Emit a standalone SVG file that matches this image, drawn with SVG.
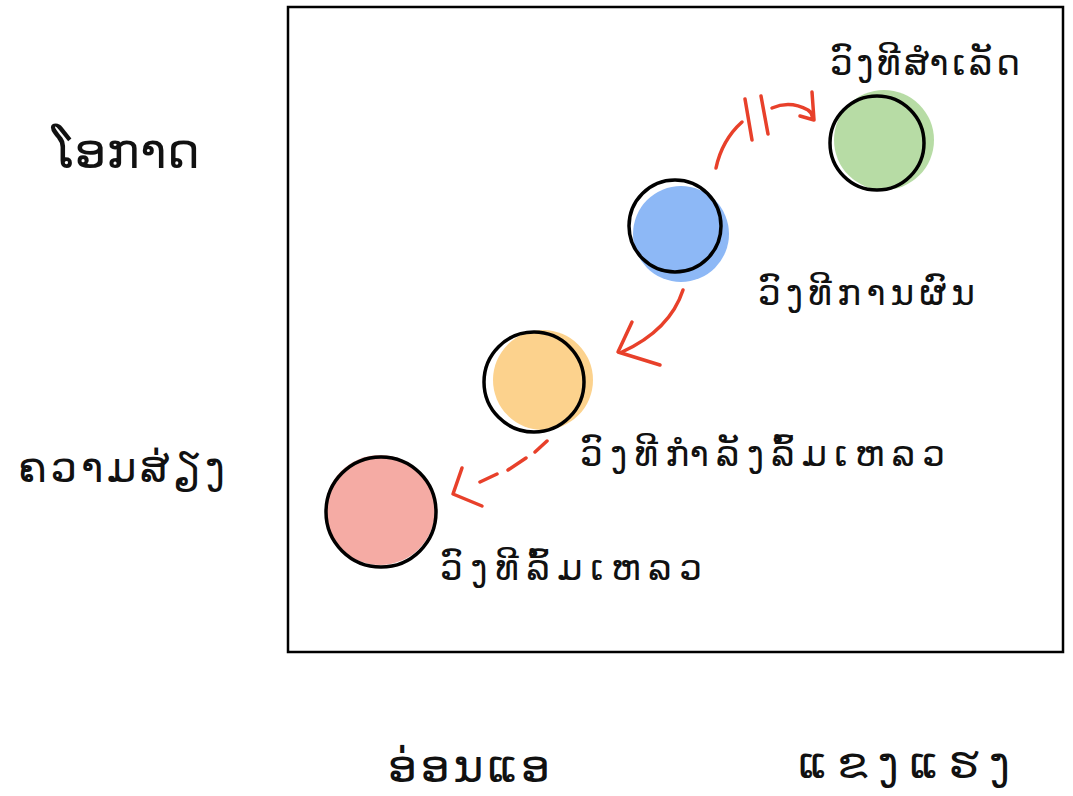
<svg xmlns="http://www.w3.org/2000/svg" width="1073" height="796" viewBox="0 0 1073 796">
<style>
.lbl{font-family:"DejaVu Sans","Noto Sans",sans-serif;fill:#111;}
.ring{fill:none;stroke:#000;stroke-width:3.5;}
.red{fill:none;stroke:#e8402a;stroke-width:3.5;stroke-linecap:round;stroke-linejoin:round;}
</style>
<rect width="1073" height="796" fill="#fff"/>
<rect x="288" y="7" width="775" height="645" fill="none" stroke="#000" stroke-width="2.5"/>
<g id="axis-labels">
<text class="lbl" x="52" y="168" font-size="50" textLength="148" lengthAdjust="spacing">ໂອກາດ</text>
<text class="lbl" x="18" y="482" font-size="42" textLength="207" lengthAdjust="spacing">ຄວາມສ່ຽງ</text>
<text class="lbl" x="388" y="782" font-size="46" textLength="162" lengthAdjust="spacing">ອ່ອນແອ</text>
<text class="lbl" x="798" y="778" font-size="44" textLength="212" lengthAdjust="spacing">ແຂງແຮງ</text>
</g>
<g id="node-green">
<circle cx="884" cy="140" r="50" fill="#b7dca5"/>
<circle class="ring" cx="877" cy="143" r="47"/>
<text class="lbl" x="830" y="75" font-size="36" textLength="190" lengthAdjust="spacing">ວົງທີສຳເລັດ</text>
</g>
<g id="node-blue">
<circle cx="681" cy="234" r="48" fill="#8db8f6"/>
<circle class="ring" cx="675" cy="226" r="46"/>
<text class="lbl" x="758" y="305" font-size="36" textLength="217" lengthAdjust="spacing">ວົງທີການຜົນ</text>
</g>
<g id="node-orange">
<circle cx="543" cy="380" r="50" fill="#fcd28d"/>
<circle class="ring" cx="534" cy="382" r="50"/>
<text class="lbl" x="580" y="466" font-size="36" textLength="365" lengthAdjust="spacing">ວົງທີກຳລັງລົ້ມເຫລວ</text>
</g>
<g id="node-red">
<circle cx="380" cy="510" r="55" fill="#f5aba4"/>
<circle class="ring" cx="381" cy="512" r="55"/>
<text class="lbl" x="440" y="580" font-size="36" textLength="262" lengthAdjust="spacing">ວົງທີລົ້ມເຫລວ</text>
</g>
<g id="connectors">
<path class="red" d="M716 168 Q722 140 742 122"/>
<path class="red" d="M745 99 L752 140 M761 96 L768 134"/>
<path class="red" d="M772 108 Q790 100 808 110 Q812 113 812 116 M812 92 L814 120 L800 116"/>
<path class="red" d="M683 290 Q670 330 622 352"/>
<path class="red" d="M632 322 L618 352 L660 365"/>
<path class="red" d="M547 441 L535 452 M526 458 L508 470 M497 474 L480 482"/>
<path class="red" d="M462 468 L453 494 L482 506"/>
</g>
</svg>
